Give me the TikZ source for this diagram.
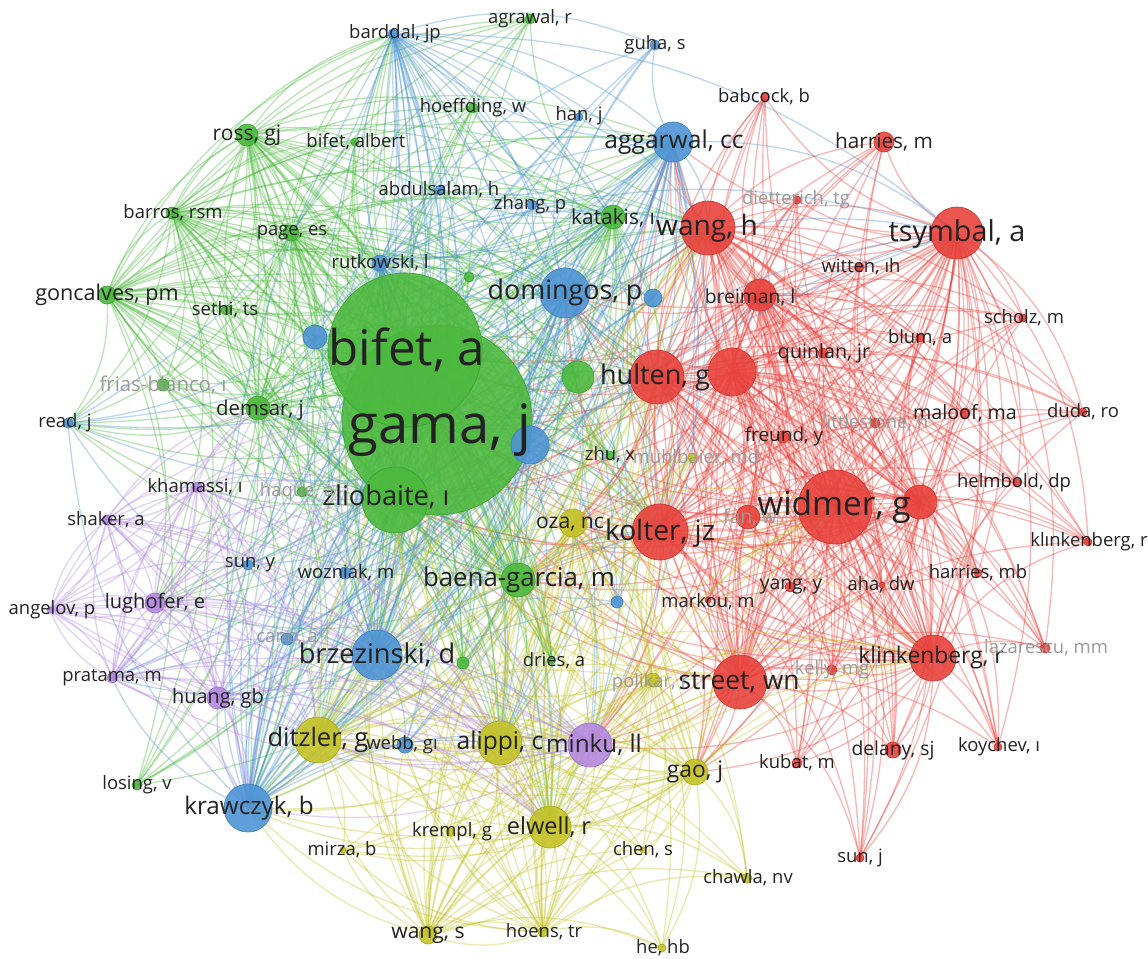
\documentclass[tikz,border=0pt]{standalone}
\usepackage{fontspec}
\setmainfont{Open Sans}

\pgfdeclarelayer{links}
\pgfsetlayers{links,main}

\definecolor{vgreen}{RGB}{76,185,62}
\definecolor{vred}{RGB}{232,66,60}
\definecolor{vblue}{RGB}{78,148,212}
\definecolor{vyell}{RGB}{196,194,40}
\definecolor{vpurp}{RGB}{180,136,224}
\definecolor{labc}{HTML}{222222}
\definecolor{fadc}{HTML}{9A9A9A}

\tikzset{
  bub/.style={circle, fill=#1, draw=#1!88!black, line width=.4pt, inner sep=0pt, fill opacity=.9},
  sz/.style={minimum size=#1*0.04cm},
  lab/.style={font=\fontsize{#1}{#1}\selectfont, text=labc, inner sep=0pt},
  fad/.style={lab=#1, text=fadc},
  lnk/.style={draw=#1, line width=.75pt, draw opacity=.38}
}

\begin{document}
\begin{tikzpicture}[x=0.02cm, y=-0.02cm]
    \useasboundingbox (0,0) rectangle (1148,958);

    % Bubbles, big ones first
    \node[bub=vgreen, sz=95] (gama) at (437,420) {};
    \node[bub=vgreen, sz=77] (bifet) at (405,350) {};
    \node[bub=vgreen, sz=33] (zliob) at (395,500) {};
    \node[bub=vred, sz=37] (widmer) at (835,507) {};

    % green cluster
    \node[bub=vgreen, sz=11] (ross) at (247,135) {};
    \node[bub=vgreen, sz=4] (bifetal) at (355,142) {};
    \node[bub=vgreen, sz=6] (barros) at (172,213) {};
    \node[bub=vgreen, sz=8] (page) at (291,233) {};
    \node[bub=vgreen, sz=9] (gonc) at (107,295) {};
    \node[bub=vgreen, sz=5] (sethi) at (226,310) {};
    \node[bub=vgreen, sz=6] (frias) at (163,385) {};
    \node[bub=vgreen, sz=12] (demsar) at (258,408) {};
    \node[bub=vgreen, sz=5] (hoeff) at (473,108) {};
    \node[bub=vgreen, sz=5] (agraw) at (530,19) {};
    \node[bub=vgreen, sz=12] (katak) at (613,217) {};
    \node[bub=vgreen, sz=5] (gsmall) at (469,277) {};
    \node[bub=vgreen, sz=16] (gmid) at (578,377) {};
    \node[bub=vgreen, sz=5] (haque) at (302,492) {};
    \node[bub=vgreen, sz=17] (baena) at (518,580) {};
    \node[bub=vgreen, sz=4] (zhux) at (610,455) {};
    \node[bub=vgreen, sz=6] (gdot) at (463,663) {};
    \node[bub=vgreen, sz=3] (dries) at (552,661) {};
    \node[bub=vgreen, sz=5] (losing) at (137,785) {};

    % blue cluster
    \node[bub=vblue, sz=20] (aggar) at (673,142) {};
    \node[bub=vblue, sz=25] (doming) at (565,293) {};
    \node[bub=vblue, sz=5] (bardd) at (393,34) {};
    \node[bub=vblue, sz=5] (guha) at (655,45) {};
    \node[bub=vblue, sz=4] (hanj) at (579,117) {};
    \node[bub=vblue, sz=5] (abdul) at (440,190) {};
    \node[bub=vblue, sz=5] (zhangp) at (532,205) {};
    \node[bub=vblue, sz=8] (rutk) at (380,263) {};
    \node[bub=vblue, sz=12] (bleft) at (315,337) {};
    \node[bub=vblue, sz=9] (bright) at (653,298) {};
    \node[bub=vblue, sz=19] (bgama) at (530,445) {};
    \node[bub=vblue, sz=5] (readj) at (68,423) {};
    \node[bub=vblue, sz=5] (suny) at (248,565) {};
    \node[bub=vblue, sz=6] (wozn) at (345,573) {};
    \node[bub=vblue, sz=6] (cano) at (287,639) {};
    \node[bub=vblue, sz=25] (brzez) at (377,655) {};
    \node[bub=vblue, sz=6] (bzou) at (617,602) {};
    \node[bub=vblue, sz=8] (webb) at (405,745) {};
    \node[bub=vblue, sz=24] (kraw) at (248,808) {};

    % red cluster
    \node[bub=vred, sz=27] (wangh) at (708,228) {};
    \node[bub=vred, sz=26] (tsym) at (957,233) {};
    \node[bub=vred, sz=10] (harm) at (884,142) {};
    \node[bub=vred, sz=4] (babc) at (765,97) {};
    \node[bub=vred, sz=4] (diett) at (797,200) {};
    \node[bub=vred, sz=4] (witt) at (860,267) {};
    \node[bub=vred, sz=16] (breim) at (760,295) {};
    \node[bub=vred, sz=4] (schol) at (1023,318) {};
    \node[bub=vred, sz=4] (blum) at (920,338) {};
    \node[bub=vred, sz=5] (quin) at (823,353) {};
    \node[bub=vred, sz=27] (hulten) at (657,377) {};
    \node[bub=vred, sz=24] (rcent) at (732,372) {};
    \node[bub=vred, sz=5] (malo) at (965,413) {};
    \node[bub=vred, sz=5] (littl) at (875,423) {};
    \node[bub=vred, sz=4] (duda) at (1083,412) {};
    \node[bub=vred, sz=6] (freund) at (783,437) {};
    \node[bub=vred, sz=17] (rwid) at (920,502) {};
    \node[bub=vred, sz=4] (helm) at (1017,483) {};
    \node[bub=vred, sz=4] (klinks) at (1088,542) {};
    \node[bub=vred, sz=4] (harmb) at (978,573) {};
    \node[bub=vred, sz=5] (yangy) at (790,587) {};
    \node[bub=vred, sz=3] (aha) at (882,585) {};
    \node[bub=vred, sz=3] (markou) at (708,600) {};
    \node[bub=vred, sz=28] (kolter) at (660,532) {};
    \node[bub=vred, sz=12] (fanw) at (748,517) {};
    \node[bub=vred, sz=27] (street) at (740,682) {};
    \node[bub=vred, sz=23] (klink) at (933,658) {};
    \node[bub=vred, sz=5] (kelly) at (832,670) {};
    \node[bub=vred, sz=5] (lazar) at (1045,648) {};
    \node[bub=vred, sz=8] (delany) at (893,750) {};
    \node[bub=vred, sz=5] (kubat) at (797,763) {};
    \node[bub=vred, sz=4] (koych) at (998,747) {};
    \node[bub=vred, sz=4] (sunj) at (860,858) {};

    % yellow cluster
    \node[bub=vyell, sz=14] (oza) at (573,523) {};
    \node[bub=vyell, sz=4] (muhl) at (692,457) {};
    \node[bub=vyell, sz=7] (polik) at (653,680) {};
    \node[bub=vyell, sz=23] (ditz) at (318,740) {};
    \node[bub=vyell, sz=22] (alippi) at (500,743) {};
    \node[bub=vyell, sz=21] (elwell) at (550,827) {};
    \node[bub=vyell, sz=13] (gaoj) at (695,772) {};
    \node[bub=vyell, sz=4] (krempl) at (450,832) {};
    \node[bub=vyell, sz=3] (mirza) at (343,850) {};
    \node[bub=vyell, sz=3] (chens) at (643,850) {};
    \node[bub=vyell, sz=5] (chawla) at (747,878) {};
    \node[bub=vyell, sz=9] (wangs) at (428,935) {};
    \node[bub=vyell, sz=5] (hoens) at (543,932) {};
    \node[bub=vyell, sz=4] (hehb) at (662,948) {};

    % purple cluster
    \node[bub=vpurp, sz=22] (minku) at (590,745) {};
    \node[bub=vpurp, sz=10] (lugh) at (155,603) {};
    \node[bub=vpurp, sz=3] (angel) at (50,610) {};
    \node[bub=vpurp, sz=5] (khama) at (197,487) {};
    \node[bub=vpurp, sz=5] (shaker) at (107,520) {};
    \node[bub=vpurp, sz=5] (pratama) at (112,678) {};
    \node[bub=vpurp, sz=11] (huang) at (218,698) {};

    % Links
    \begin{pgfonlayer}{links}
    \foreach \a in {widmer,tsym,wangh,hulten,kolter,street,klink,breim,rcent,rwid}
      \foreach \b in {widmer,tsym,wangh,hulten,kolter,street,klink,breim,rcent,rwid,harm,babc,diett,witt,schol,blum,quin,malo,littl,duda,freund,helm,fanw,klinks,harmb,yangy,aha,markou,kelly,lazar,delany,kubat,koych,sunj,gama,bifet,doming,aggar,oza,minku,gaoj,baena,zliob}
        {\ifx\a\b\else\draw[lnk=vred] (\a.center) to[bend left=20] (\b.center);\fi}
    \foreach \a in {gama,bifet,zliob,baena,ross,gonc,demsar,page,barros,katak}
      \foreach \b in {gama,bifet,zliob,baena,ross,bifetal,barros,page,gonc,sethi,frias,demsar,hoeff,agraw,katak,gsmall,gmid,haque,zhux,gdot,dries,losing,doming,rutk,readj,bleft,brzez,kraw,ditz,hulten,wangh,kolter,aggar,bardd,lugh,alippi,elwell}
        {\ifx\a\b\else\draw[lnk=vgreen] (\a.center) to[bend left=20] (\b.center);\fi}
    \foreach \a in {doming,aggar,brzez,kraw,bardd,bgama,rutk}
      \foreach \b in {doming,aggar,brzez,kraw,bardd,guha,hanj,abdul,zhangp,rutk,bleft,bright,bgama,readj,suny,wozn,cano,bzou,webb,gama,bifet,zliob,wangh,hulten,kolter,ditz,alippi,minku,huang,pratama,katak,tsym}
        {\ifx\a\b\else\draw[lnk=vblue] (\a.center) to[bend left=20] (\b.center);\fi}
    \foreach \a in {ditz,alippi,elwell,gaoj,wangs,oza,polik,hoens}
      \foreach \b in {ditz,alippi,elwell,gaoj,wangs,oza,polik,muhl,krempl,mirza,chens,chawla,hoens,hehb,minku,brzez,kraw,gama,bifet,zliob,baena,street,kolter,widmer,klink,webb,hulten,wangh}
        {\ifx\a\b\else\draw[lnk=vyell] (\a.center) to[bend left=20] (\b.center);\fi}
    \foreach \a in {minku,lugh,huang,pratama,khama,shaker,angel}
      \foreach \b in {minku,lugh,angel,khama,shaker,pratama,huang,suny,gama,zliob,ditz,brzez,kraw,demsar,alippi,elwell}
        {\ifx\a\b\else\draw[lnk=vpurp] (\a.center) to[bend left=20] (\b.center);\fi}
    \end{pgfonlayer}

    % Labels
    \node[lab=31] (gama-l) at (440,430) {gama, j};
    \node[lab=28] (bifet-l) at (407,350) {bifet, a};
    \node[lab=15.5] (zliob-l) at (386,497) {zliobaite, ı};
    \node[lab=19] (widmer-l) at (834,507) {widmer, g};
    \node[lab=12] (ross-l) at (247,135) {ross, gj};
    \node[lab=10.5] (bifetal-l) at (356,142) {bifet, albert};
    \node[lab=10.5] (barros-l) at (173,213) {barros, rsm};
    \node[lab=10.5] (page-l) at (292,233) {page, es};
    \node[lab=12.3] (gonc-l) at (107,295) {goncalves, pm};
    \node[lab=10.5] (sethi-l) at (225,310) {sethi, ts};
    \node[fad=11.6] (frias-l) at (163,385) {frias-blanco, ı};
    \node[lab=11.6] (demsar-l) at (260,410) {demsar, j};
    \node[lab=10.5] (hoeff-l) at (473,108) {hoeffding, w};
    \node[lab=10.5] (agraw-l) at (530,19) {agrawal, r};
    \node[lab=11.9] (katak-l) at (613,218) {katakis, ı};
    \node[fad=10.5] (haque-l) at (297,492) {haque, a};
    \node[lab=14.7] (baena-l) at (519,580) {baena-garcia, m};
    \node[lab=10.5] (zhux-l) at (610,455) {zhu, x};
    \node[lab=10.5] (dries-l) at (554,661) {dries, a};
    \node[lab=10.5] (losing-l) at (137,785) {losing, v};

    \node[lab=14] (aggar-l) at (674,142) {aggarwal, cc};
    \node[lab=15.3] (doming-l) at (565,293) {domingos, p};
    \node[lab=10.5] (bardd-l) at (395,34) {barddal, jp};
    \node[lab=10.5] (guha-l) at (655,45) {guha, s};
    \node[lab=10.5] (hanj-l) at (579,116) {han, j};
    \node[lab=10.5] (abdul-l) at (439,190) {abdulsalam, h};
    \node[lab=10.5] (zhangp-l) at (530,205) {zhang, p};
    \node[lab=10.5] (rutk-l) at (380,263) {rutkowski, l};
    \node[lab=10.5] (readj-l) at (65,423) {read, j};
    \node[lab=10.5] (suny-l) at (250,565) {sun, y};
    \node[lab=10.5] (wozn-l) at (346,573) {wozniak, m};
    \node[fad=10.5] (cano-l) at (287,639) {cano, a};
    \node[lab=15.5] (brzez-l) at (377,655) {brzezinski, d};
    \node[lab=10.5] (webb-l) at (402,745) {webb, gı};
    \node[lab=13.8] (kraw-l) at (249,808) {krawczyk, b};

    \node[lab=16] (wangh-l) at (707,228) {wang, h};
    \node[lab=16.4] (tsym-l) at (957,234) {tsymbal, a};
    \node[lab=11.8] (harm-l) at (884,142) {harries, m};
    \node[lab=10.5] (babc-l) at (764,97) {babcock, b};
    \node[fad=10.5] (diett-l) at (796,200) {dietterich, tg};
    \node[lab=10.5] (witt-l) at (861,267) {witten, ıh};
    \node[lab=11] (breim-l) at (750,297) {breiman, l};
    \node[lab=10.5] (schol-l) at (1024,318) {scholz, m};
    \node[lab=10.5] (blum-l) at (920,338) {blum, a};
    \node[lab=11.2] (quin-l) at (824,353) {quinlan, jr};
    \node[lab=15.4] (hulten-l) at (655,377) {hulten, g};
    \node[lab=11.2] (malo-l) at (965,413) {maloof, ma};
    \node[fad=10.5] (littl-l) at (875,423) {littlestone, n};
    \node[lab=10.5] (duda-l) at (1083,412) {duda, ro};
    \node[lab=10.8] (freund-l) at (784,437) {freund, y};
    \node[lab=10.5] (helm-l) at (1014,483) {helmbold, dp};
    \node[lab=10.5] (klinks-l) at (1089,542) {klınkenberg, r};
    \node[lab=10.5] (harmb-l) at (978,573) {harries, mb};
    \node[lab=11] (yangy-l) at (791,587) {yang, y};
    \node[lab=10.5] (aha-l) at (881,585) {aha, dw};
    \node[lab=10.5] (markou-l) at (708,602) {markou, m};
    \node[lab=16] (kolter-l) at (660,533) {kolter, jz};
    \node[fad=11] (fanw-l) at (750,517) {fan, w};
    \node[lab=15] (street-l) at (739,682) {street, wn};
    \node[lab=13] (klink-l) at (931,658) {klinkenberg, r};
    \node[fad=10.5] (kelly-l) at (832,670) {kelly, mg};
    \node[fad=10.5] (lazar-l) at (1046,648) {lazarescu, mm};
    \node[lab=11] (delany-l) at (893,750) {delany, sj};
    \node[lab=10.5] (kubat-l) at (797,763) {kubat, m};
    \node[lab=10.5] (koych-l) at (999,747) {koychev, ı};
    \node[lab=10.5] (sunj-l) at (860,858) {sun, j};

    \node[lab=12] (oza-l) at (570,524) {oza, nc};
    \node[fad=10.5] (muhl-l) at (696,458) {muhlbaier, md};
    \node[fad=10.5] (polik-l) at (650,683) {polikar, r};
    \node[lab=14.5] (ditz-l) at (318,740) {ditzler, g};
    \node[lab=14] (alippi-l) at (500,743) {alippi, c};
    \node[lab=13.4] (elwell-l) at (549,827) {elwell, r};
    \node[lab=13] (gaoj-l) at (695,772) {gao, j};
    \node[lab=10.5] (krempl-l) at (452,832) {krempl, g};
    \node[lab=10.5] (mirza-l) at (342,850) {mirza, b};
    \node[lab=10.5] (chens-l) at (643,850) {chen, s};
    \node[lab=10.5] (chawla-l) at (748,878) {chawla, nv};
    \node[lab=12] (wangs-l) at (428,935) {wang, s};
    \node[lab=10.5] (hoens-l) at (544,932) {hoens, tr};
    \node[lab=10.5] (hehb-l) at (663,948) {he, hb};

    \node[lab=13.8] (minku-l) at (594,745) {minku, ll};
    \node[lab=11.4] (lugh-l) at (155,603) {lughofer, e};
    \node[lab=10.5] (angel-l) at (52,610) {angelov, p};
    \node[lab=10.5] (khama-l) at (195,487) {khamassi, ı};
    \node[lab=10.5] (shaker-l) at (106,520) {shaker, a};
    \node[lab=10.5] (pratama-l) at (112,678) {pratama, m};
    \node[lab=11.3] (huang-l) at (218,698) {huang, gb};

\end{tikzpicture}
\end{document}
